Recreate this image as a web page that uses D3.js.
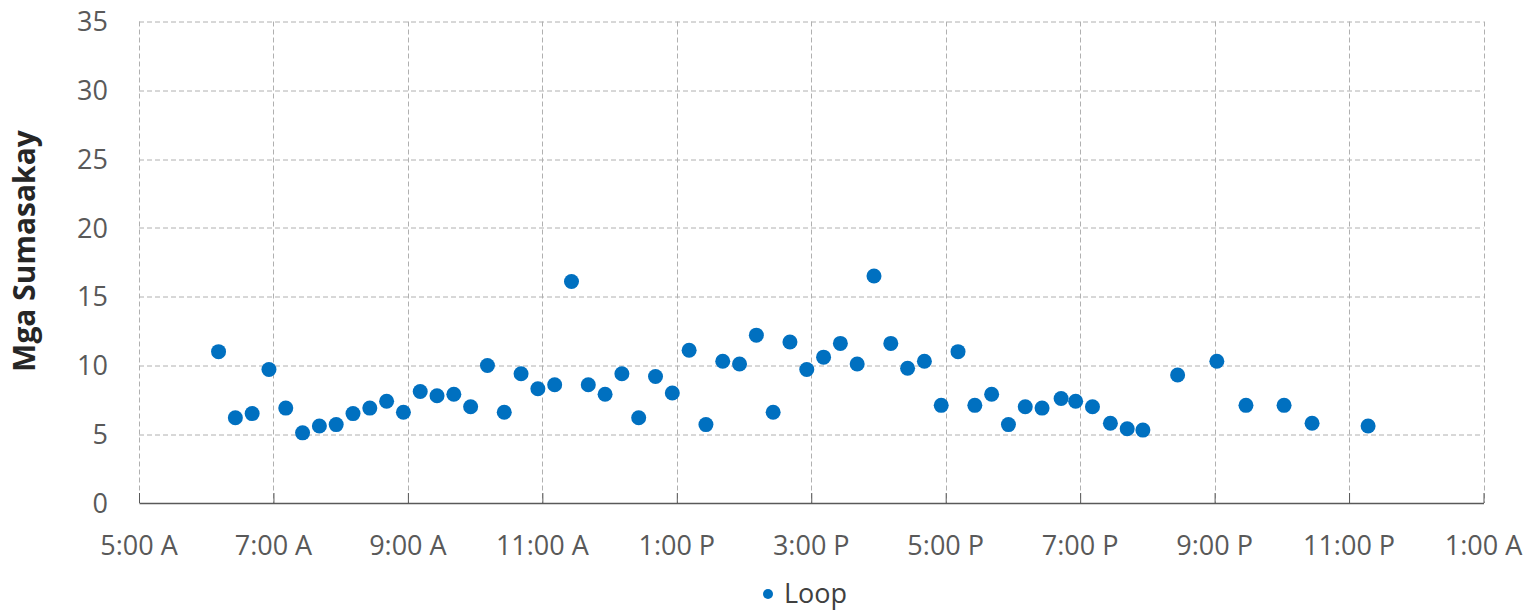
<!DOCTYPE html>
<html>
<head>
<meta charset="utf-8">
<script src="https://cdn.jsdelivr.net/npm/d3@7"></script>
<style>
  body { margin: 0; background: #fff; }
  svg { display: block; font-family: "Open Sans", "Segoe UI", sans-serif; }
  .grid line { stroke: #b0b0b0; stroke-dasharray: 5 3; stroke-width: 1; }
  .tick-label { fill: #595959; font-size: 27px; }
</style>
</head>
<body>
<svg id="chart"></svg>
<script>
// departure times (24h clock)
const times = [
    "6:11", "6:26", "6:41", "6:56", "7:11", "7:26", "7:41", "7:56",
    "8:11", "8:26", "8:41", "8:56", "9:11", "9:26", "9:41", "9:56",
    "10:11", "10:26", "10:41", "10:56", "11:11", "11:26", "11:41", "11:56",
    "12:11", "12:26", "12:41", "12:56", "13:11", "13:26", "13:41", "13:56",
    "14:11", "14:26", "14:41", "14:56", "15:11", "15:26", "15:41", "15:56",
    "16:11", "16:26", "16:41", "16:56", "17:11", "17:26", "17:41", "17:56",
    "18:11", "18:26", "18:43", "18:56", "19:11", "19:27", "19:42", "19:56",
    "20:27", "21:02", "21:28", "22:02", "22:27", "23:17"
];
// riders per trip, series "Loop"
const riders = [
    11.0, 6.2, 6.5, 9.7, 6.9, 5.1, 5.6, 5.7,
    6.5, 6.9, 7.4, 6.6, 8.1, 7.8, 7.9, 7.0,
    10.0, 6.6, 9.4, 8.3, 8.6, 16.1, 8.6, 7.9,
    9.4, 6.2, 9.2, 8.0, 11.1, 5.7, 10.3, 10.1,
    12.2, 6.6, 11.7, 9.7, 10.6, 11.6, 10.1, 16.5,
    11.6, 9.8, 10.3, 7.1, 11.0, 7.1, 7.9, 5.7,
    7.0, 6.9, 7.6, 7.4, 7.0, 5.8, 5.4, 5.3,
    9.3, 10.3, 7.1, 7.1, 5.8, 5.6
];
const seriesName = "Loop";
const xTickHours = [5, 7, 9, 11, 13, 15, 17, 19, 21, 23, 25];
const xTickLabels = ["5:00 A", "7:00 A", "9:00 A", "11:00 A", "1:00 P", "3:00 P",
                     "5:00 P", "7:00 P", "9:00 P", "11:00 P", "1:00 A"];
const yTicks = [0, 5, 10, 15, 20, 25, 30, 35];
const yTitle = "Mga Sumasakay";

const W = 1528, H = 610;
const MARGIN = {LEFT: 139, RIGHT: 44.5, TOP: 21.5, BOTTOM: 107};
const WIDTH = W - MARGIN.LEFT - MARGIN.RIGHT;
const HEIGHT = H - MARGIN.TOP - MARGIN.BOTTOM;

const toHours = s => { const p = s.split(":"); return +p[0] + p[1] / 60; };
const data = times.map((t, i) => ({hour: toHours(t), value: riders[i]}));

const svg = d3.select("#chart").attr("width", W).attr("height", H);
const graph = svg.append("g").attr("transform", `translate(${MARGIN.LEFT}, ${MARGIN.TOP})`);

const x = d3.scaleLinear().domain([5, 25]).range([0, WIDTH]);
const y = d3.scaleLinear().domain([0, 35]).range([HEIGHT, 0]);

// gridlines
const grid = graph.append("g").attr("class", "grid");
grid.selectAll(".h").data(yTicks.filter(d => d > 0)).enter().append("line")
    .attr("x1", 0).attr("x2", WIDTH)
    .attr("y1", d => Math.round(y(d)) + 0.5).attr("y2", d => Math.round(y(d)) + 0.5);
grid.selectAll(".v").data(xTickHours.slice(1)).enter().append("line")
    .attr("y1", 0).attr("y2", HEIGHT)
    .attr("x1", d => Math.round(x(d)) + 0.5).attr("x2", d => Math.round(x(d)) + 0.5);
grid.append("line").attr("x1", 0.5).attr("x2", 0.5).attr("y1", 0).attr("y2", HEIGHT);

// x axis, ticks pointing inward
const xAxis = graph.append("g")
    .attr("transform", `translate(0, ${HEIGHT})`)
    .call(d3.axisBottom(x).tickValues(xTickHours).tickSizeInner(-10).tickSizeOuter(0).tickFormat(""));
xAxis.select(".domain").attr("stroke", "#595959").attr("stroke-width", 1.3);
xAxis.selectAll(".tick line").attr("stroke", "#595959");

graph.append("g").selectAll("text").data(xTickHours).enter().append("text")
    .attr("class", "tick-label")
    .attr("x", d => x(d)).attr("y", HEIGHT + 52)
    .attr("text-anchor", "middle")
    .text((d, i) => xTickLabels[i]);

graph.append("g").selectAll("text").data(yTicks).enter().append("text")
    .attr("class", "tick-label")
    .attr("x", -31).attr("y", d => y(d))
    .attr("dy", "0.36em")
    .attr("text-anchor", "end")
    .text(d => d);

// y title
svg.append("text")
    .attr("transform", "translate(35, 251) rotate(-90)")
    .attr("text-anchor", "middle")
    .attr("font-size", 30)
    .attr("font-weight", "bold")
    .attr("fill", "#262626")
    .text(yTitle);

// points
graph.append("g").selectAll("circle").data(data).enter().append("circle")
    .attr("cx", d => x(d.hour))
    .attr("cy", d => y(d.value))
    .attr("r", 7.5)
    .attr("fill", "#0070C0");

// legend
const legend = svg.append("g").attr("transform", "translate(768, 594)");
legend.append("circle").attr("r", 5).attr("fill", "#0070C0");
legend.append("text")
    .attr("x", 16).attr("y", 9)
    .attr("font-size", 27)
    .attr("fill", "#404040")
    .text(seriesName);
</script>
</body>
</html>
